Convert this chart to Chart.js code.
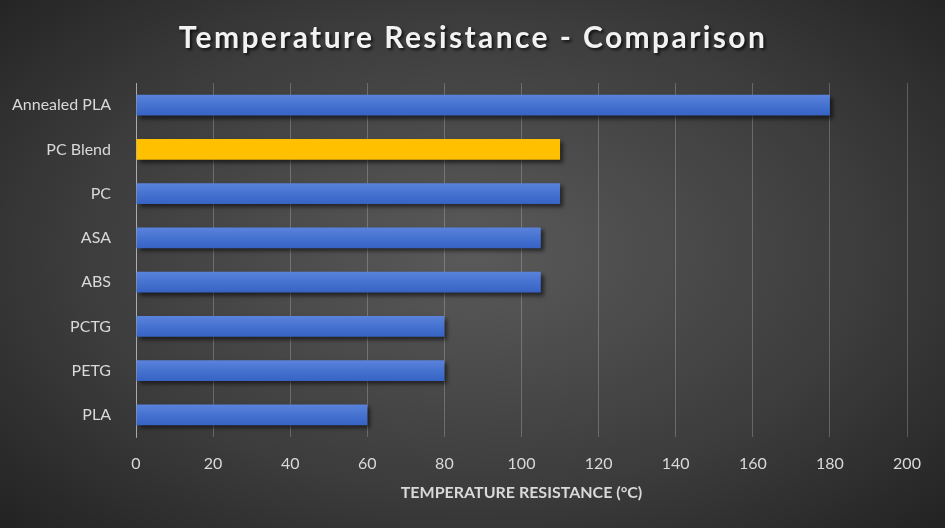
<!DOCTYPE html>
<html>
<head>
<meta charset="utf-8">
<script src="https://cdn.jsdelivr.net/npm/chart.js@4"></script>
<style>
  html, body { margin: 0; padding: 0; }
  body {
    width: 945px; height: 528px; overflow: hidden;
    background: radial-gradient(ellipse 70% 75% at 50% 48%, #5a5a5a 0%, #3c3c3c 60%, #222 100%);
  }
  #wrap { width: 945px; height: 528px; position: relative; }
</style>
</head>
<body>
<div id="wrap"><canvas id="chart"></canvas></div>
<script>
const TITLE = 'Temperature Resistance - Comparison';
const AXIS_TITLE = 'TEMPERATURE RESISTANCE (°C)';
const materials = ['Annealed PLA', 'PC Blend', 'PC', 'ASA', 'ABS', 'PCTG', 'PETG', 'PLA'];
const tempResistance = [180, 110, 110, 105, 105, 80, 80, 60];
const highlight = 'PC Blend';
const xTicks = [0, 20, 40, 60, 80, 100, 120, 140, 160, 180, 200];

const labelFont = 'Lato, "Open Sans", sans-serif';

// bar fill: vertical gradient per bar, yellow for highlighted one
function barColor(ctx) {
  if (materials[ctx.dataIndex] === highlight) return '#ffc000';
  const chart = ctx.chart;
  const y = chart.scales.y;
  if (!y || ctx.dataIndex === undefined) return '#4672d0';
  const c = y.getPixelForValue(ctx.dataIndex);
  if (!isFinite(c)) return '#4672d0';
  const g = chart.ctx.createLinearGradient(0, c - 11, 0, c + 11);
  g.addColorStop(0, '#5b84dc');
  g.addColorStop(0.5, '#4672d0');
  g.addColorStop(1, '#3562c4');
  return g;
}

const titlePlugin = {
  id: 'fancyTitle',
  afterDraw(chart) {
    const ctx = chart.ctx;
    ctx.save();
    ctx.font = 'bold 30px ' + labelFont;
    ctx.letterSpacing = '2.4px';
    ctx.textAlign = 'center';
    ctx.textBaseline = 'middle';
    ctx.shadowColor = 'rgba(0,0,0,0.7)';
    ctx.shadowOffsetX = 2;
    ctx.shadowOffsetY = 2;
    ctx.shadowBlur = 3;
    ctx.fillStyle = '#f2f2f2';
    ctx.fillText(TITLE, 473, 38);
    ctx.restore();
  }
};

const shadowPlugin = {
  id: 'barShadow',
  beforeDatasetsDraw(chart) {
    const ctx = chart.ctx;
    ctx.save();
    ctx.shadowColor = 'rgba(0,0,0,0.55)';
    ctx.shadowOffsetX = 3;
    ctx.shadowOffsetY = 3;
    ctx.shadowBlur = 4;
  },
  afterDatasetsDraw(chart) {
    chart.ctx.restore();
  }
};

new Chart(document.getElementById('chart'), {
  type: 'bar',
  data: {
    labels: materials,
    datasets: [{
      data: tempResistance,
      backgroundColor: barColor,
      barPercentage: 0.47,
      categoryPercentage: 1
    }]
  },
  options: {
    indexAxis: 'y',
    responsive: true,
    maintainAspectRatio: false,
    animation: false,
    layout: { padding: { top: 83, right: 38, bottom: 0, left: 0 } },
    plugins: {
      legend: { display: false },
      tooltip: { enabled: false }
    },
    scales: {
      x: {
        min: 0,
        max: 200,
        afterBuildTicks(scale) { scale.ticks = xTicks.map(v => ({ value: v })); },
        afterFit(scale) { scale.height = 91; },
        grid: { color: 'rgba(255,255,255,0.22)', drawTicks: false, lineWidth: 1 },
        border: { display: false },
        ticks: { color: '#d9d9d9', font: { family: labelFont, size: 16 }, padding: 17 },
        title: {
          display: true,
          text: AXIS_TITLE,
          color: '#d9d9d9',
          font: { family: labelFont, size: 16, weight: 'bold' },
          padding: { top: 10, bottom: 26 }
        }
      },
      y: {
        afterFit(scale) { scale.width = 136; },
        grid: { display: false },
        border: { color: 'rgba(255,255,255,0.45)', width: 1 },
        ticks: { color: '#d9d9d9', font: { family: labelFont, size: 16 }, padding: 17 }
      }
    }
  },
  plugins: [shadowPlugin, titlePlugin]
});
</script>
</body>
</html>
